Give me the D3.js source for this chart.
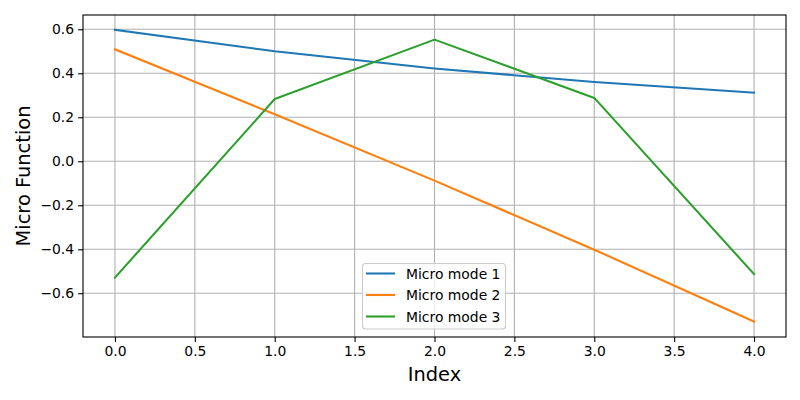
<!DOCTYPE html>
<html><head><meta charset="utf-8">
<script src="https://cdn.jsdelivr.net/npm/d3@7"></script>
<style>body{margin:0;background:#fff;} text{font-family:"DejaVu Sans",sans-serif;}</style>
</head><body>
<svg id="c" width="800" height="400"></svg>
<script>
const xIndex = [0, 1, 2, 3, 4];
const mode1 = [0.598, 0.500, 0.422, 0.360, 0.312];
const mode2 = [0.509, 0.214, -0.088, -0.402, -0.729];
const mode3 = [-0.529, 0.283, 0.553, 0.288, -0.513];
const seriesNames = ["Micro mode 1", "Micro mode 2", "Micro mode 3"];
const colors = ["#1f77b4", "#ff7f0e", "#2ca02c"];
const xTicks = [0, 0.5, 1, 1.5, 2, 2.5, 3, 3.5, 4];
const yTicks = [-0.6, -0.4, -0.2, 0.0, 0.2, 0.4, 0.6];

const svg = d3.select("#c");
const L = 83, R = 786, T = 15, B = 337;
const x = d3.scaleLinear().domain([-0.2, 4.2]).range([L, R]);
const y = d3.scaleLinear().domain([-0.799, 0.665]).range([B, T]);

// grid
const g = svg.append("g");
g.selectAll(".gx").data(xTicks).join("line")
  .attr("x1", d => x(d)).attr("x2", d => x(d)).attr("y1", T).attr("y2", B)
  .attr("stroke", "#b0b0b0").attr("stroke-width", 1.1);
g.selectAll(".gy").data(yTicks).join("line")
  .attr("y1", d => y(d)).attr("y2", d => y(d)).attr("x1", L).attr("x2", R)
  .attr("stroke", "#b0b0b0").attr("stroke-width", 1.1);

// axes
const xAxis = d3.axisBottom(x).tickValues(xTicks).tickFormat(d3.format(".1f")).tickSizeOuter(0).tickSize(4.9).tickPadding(4);
const yAxis = d3.axisLeft(y).tickValues(yTicks).tickFormat(d3.format(".1f")).tickSizeOuter(0).tickSize(4.9).tickPadding(4);
const ax = svg.append("g").attr("transform", `translate(0,${B})`).call(xAxis);
const ay = svg.append("g").attr("transform", `translate(${L},0)`).call(yAxis);
[ax, ay].forEach(a => {
  a.select(".domain").remove();
  a.selectAll("line").attr("stroke", "#000").attr("stroke-width", 1.1);
  a.selectAll("text").attr("font-size", 13.9).attr("fill", "#000").style("font-family", "DejaVu Sans");
});

// lines
const data = [mode1, mode2, mode3];
const line = d3.line().x((d, i) => x(xIndex[i])).y(d => y(d));
svg.append("g").selectAll("path").data(data).join("path")
  .attr("d", line).attr("fill", "none")
  .attr("stroke", (d, i) => colors[i]).attr("stroke-width", 2.08)
  .attr("stroke-linecap", "square").attr("stroke-linejoin", "round");

// frame
svg.append("rect").attr("x", L).attr("y", T).attr("width", R - L).attr("height", B - T)
  .attr("fill", "none").attr("stroke", "#000").attr("stroke-width", 1.1);

// labels
svg.append("text").attr("x", (L + R) / 2).attr("y", 381).attr("text-anchor", "middle")
  .attr("font-size", 19.4).text("Index");
svg.append("text").attr("transform", `translate(30,${(T + B) / 2}) rotate(-90)`).attr("text-anchor", "middle")
  .attr("font-size", 19.4).text("Micro Function");

// legend
const lg = svg.append("g");
lg.append("rect").attr("x", 362.5).attr("y", 263.5).attr("width", 143).attr("height", 65.5)
  .attr("rx", 3).attr("fill", "#fff").attr("fill-opacity", 0.8).attr("stroke", "#cccccc").attr("stroke-width", 1.1);
seriesNames.forEach((n, i) => {
  const yy = 273.5 + i * 21.5;
  lg.append("line").attr("x1", 366).attr("x2", 395).attr("y1", yy).attr("y2", yy)
    .attr("stroke", colors[i]).attr("stroke-width", 2.08);
  lg.append("text").attr("x", 406).attr("y", yy + 5).attr("font-size", 13.9).attr("fill", "#000").text(n);
});
</script>
</body></html>
